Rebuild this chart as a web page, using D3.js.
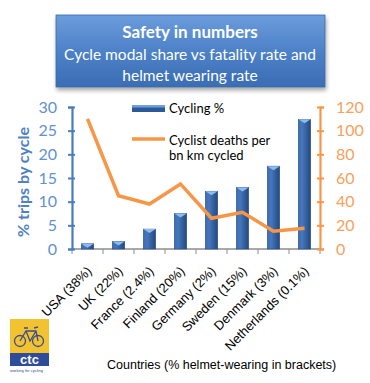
<!DOCTYPE html>
<html>
<head>
<meta charset="utf-8">
<script src="https://cdn.jsdelivr.net/npm/d3@7"></script>
<style>
  body { margin: 0; background: #fff; }
  svg { display: block; }
</style>
</head>
<body>
<script>
(function() {

  // chart data
  let countries = ["USA (38%)", "UK (22%)", "France (2.4%)", "Finland (20%)",
                   "Germany (2%)", "Sweden (15%)", "Denmark (3%)", "Netherlands (0.1%)"];
  let cyclingShare = [1.1, 1.6, 4.2, 7.5, 12.2, 13.0, 17.5, 27.4];
  let deathRate = [110, 45, 38, 55, 26, 31, 15, 17.5];
  let leftTicks = [0, 5, 10, 15, 20, 25, 30];
  let rightTicks = [0, 20, 40, 60, 80, 100, 120];

  let svg = d3.select("body").append("svg")
    .attr("width", 370)
    .attr("height", 383);

  let defs = svg.append("defs");

  // title box gradient
  let tg = defs.append("linearGradient").attr("id", "titleGrad")
    .attr("x1", 0).attr("y1", 0).attr("x2", 0).attr("y2", 1);
  tg.append("stop").attr("offset", "0%").attr("stop-color", "#6c9cdb");
  tg.append("stop").attr("offset", "50%").attr("stop-color", "#4d82c8");
  tg.append("stop").attr("offset", "100%").attr("stop-color", "#3a6db3");

  // bar gradient (cylinder look)
  let bg = defs.append("linearGradient").attr("id", "barGrad")
    .attr("x1", 0).attr("y1", 0).attr("x2", 1).attr("y2", 0);
  bg.append("stop").attr("offset", "0%").attr("stop-color", "#3a6cb2");
  bg.append("stop").attr("offset", "30%").attr("stop-color", "#4677bd");
  bg.append("stop").attr("offset", "100%").attr("stop-color", "#23487d");

  let shadow = defs.append("filter").attr("id", "shadow")
    .attr("x", "-10%").attr("y", "-10%").attr("width", "120%").attr("height", "130%");
  shadow.append("feDropShadow").attr("dx", 1).attr("dy", 3)
    .attr("stdDeviation", 2).attr("flood-color", "#000").attr("flood-opacity", 0.35);

  // title box
  svg.append("rect")
    .attr("x", 56).attr("y", 15)
    .attr("width", 269).attr("height", 72)
    .attr("fill", "url(#titleGrad)")
    .attr("stroke", "#3a6aa8").attr("stroke-width", 0.8)
    .attr("filter", "url(#shadow)");

  let titleFont = "Lato, 'Open Sans', sans-serif";
  svg.append("text")
    .attr("x", 190).attr("y", 38)
    .attr("text-anchor", "middle")
    .style("font-family", titleFont).style("font-size", "17px").style("font-weight", "bold")
    .style("fill", "white")
    .text("Safety in numbers");
  svg.append("text")
    .attr("x", 190).attr("y", 60)
    .attr("text-anchor", "middle")
    .style("font-family", titleFont).style("font-size", "15.5px")
    .style("fill", "white")
    .text("Cycle modal share vs fatality rate and");
  svg.append("text")
    .attr("x", 190).attr("y", 81)
    .attr("text-anchor", "middle")
    .style("font-family", titleFont).style("font-size", "15.5px")
    .style("fill", "white")
    .text("helmet wearing rate");

  // scales
  let left = 72, right = 320, top = 107, bottom = 249;

  let xScale = d3.scaleBand()
    .domain(countries)
    .range([left, right])
    .paddingInner(0.6)
    .paddingOuter(0.3);

  let yLeft = d3.scaleLinear().domain([0, 30]).range([bottom, top]);
  let yRight = d3.scaleLinear().domain([0, 120]).range([bottom, top]);

  // x axis baseline with ticks between categories
  let step = xScale.step();
  svg.append("line")
    .attr("x1", left).attr("x2", right)
    .attr("y1", bottom).attr("y2", bottom)
    .attr("stroke", "#8c8c8c").attr("stroke-width", 1.5);
  svg.selectAll(".xtick")
    .data(d3.range(countries.length + 1))
    .enter().append("line")
    .attr("x1", (i) => left + i * step).attr("x2", (i) => left + i * step)
    .attr("y1", bottom).attr("y2", bottom + 5)
    .attr("stroke", "#8c8c8c").attr("stroke-width", 1);

  // bars
  let bars = svg.selectAll(".bar")
    .data(countries)
    .enter().append("g");
  bars.append("rect")
    .attr("x", (d) => xScale(d))
    .attr("y", (d, i) => yLeft(cyclingShare[i]))
    .attr("width", xScale.bandwidth())
    .attr("height", (d, i) => bottom - yLeft(cyclingShare[i]))
    .attr("fill", "url(#barGrad)")
    .attr("stroke", "#2a5189").attr("stroke-width", 0.6);
  // light bevel on top of each bar
  bars.append("path")
    .attr("d", function(d, i) {
      let x0 = xScale(d), w = xScale.bandwidth(), y0 = yLeft(cyclingShare[i]);
      return "M" + x0 + "," + y0 + "L" + (x0 + w) + "," + y0 +
        "L" + (x0 + w / 2) + "," + (y0 + 4) + "Z";
    })
    .attr("fill", "#8fbaf0");

  // left axis
  let leftAxis = svg.append("g")
    .attr("transform", "translate(" + left + ",0)")
    .call(d3.axisLeft(yLeft).tickValues(leftTicks).tickSize(4).tickPadding(11));
  leftAxis.select(".domain").attr("stroke", "#4a7cc0").attr("stroke-width", 2.2);
  leftAxis.selectAll(".tick line").attr("x1", 3).attr("stroke", "#4a7cc0").attr("stroke-width", 2);
  leftAxis.selectAll(".tick text")
    .style("font-family", titleFont).style("font-size", "16px").style("fill", "#5f91d4");

  // right axis
  let rightAxis = svg.append("g")
    .attr("transform", "translate(" + right + ",0)")
    .call(d3.axisRight(yRight).tickValues(rightTicks).tickSize(4).tickPadding(12));
  rightAxis.select(".domain").attr("stroke", "#f79646").attr("stroke-width", 2.2);
  rightAxis.selectAll(".tick line").attr("x1", -3).attr("stroke", "#f79646").attr("stroke-width", 2);
  rightAxis.selectAll(".tick text")
    .style("font-family", titleFont).style("font-size", "16px").style("fill", "#f7a15c");

  // fatality line
  let line = d3.line()
    .x((d, i) => xScale(countries[i]) + xScale.bandwidth() / 2)
    .y((d) => yRight(d));
  svg.append("path")
    .datum(deathRate)
    .attr("d", line)
    .attr("fill", "none")
    .attr("stroke", "#f79646")
    .attr("stroke-width", 3.5);

  // axis title
  svg.append("text")
    .attr("transform", "translate(29,182)rotate(-90)")
    .attr("text-anchor", "middle")
    .style("font-family", titleFont).style("font-size", "16px").style("font-weight", "bold")
    .style("fill", "#4f81c4")
    .text("% trips by cycle");

  // category labels
  svg.selectAll(".xlabel")
    .data(countries)
    .enter().append("text")
    .attr("transform", (d) => "translate(" + (xScale(d) + xScale.bandwidth() / 2 + 5) + ",272)rotate(-45)")
    .attr("text-anchor", "end")
    .style("font-family", "'Liberation Sans', Arial, sans-serif").style("font-size", "13px")
    .style("fill", "#000")
    .text((d) => d);

  svg.append("text")
    .attr("x", 107).attr("y", 369)
    .style("font-family", "'Liberation Sans', Arial, sans-serif").style("font-size", "12.5px")
    .style("fill", "#000")
    .text("Countries (% helmet-wearing in brackets)");

  // legend
  svg.append("rect")
    .attr("x", 132).attr("y", 105)
    .attr("width", 33).attr("height", 7)
    .attr("fill", "#2c5a98");
  svg.append("rect")
    .attr("x", 132).attr("y", 105)
    .attr("width", 33).attr("height", 2.5)
    .attr("fill", "#6f9fdc");
  svg.append("text")
    .attr("x", 169).attr("y", 113)
    .style("font-family", titleFont).style("font-size", "13px")
    .text("Cycling %");

  svg.append("line")
    .attr("x1", 132).attr("x2", 165)
    .attr("y1", 139).attr("y2", 139)
    .attr("stroke", "#f79646").attr("stroke-width", 3.5);
  svg.append("text")
    .attr("x", 169).attr("y", 145)
    .style("font-family", titleFont).style("font-size", "13px")
    .text("Cyclist deaths per");
  svg.append("text")
    .attr("x", 169).attr("y", 160)
    .style("font-family", titleFont).style("font-size", "13px")
    .text("bn km cycled");

  // CTC logo
  let logo = svg.append("g");
  logo.append("rect")
    .attr("x", 10).attr("y", 319).attr("width", 39).attr("height", 34)
    .attr("fill", "#f2c230");
  logo.append("circle").attr("cx", 20).attr("cy", 341).attr("r", 5.5)
    .attr("fill", "none").attr("stroke", "#3b4f8f").attr("stroke-width", 1.3);
  logo.append("circle").attr("cx", 38).attr("cy", 341).attr("r", 5.5)
    .attr("fill", "none").attr("stroke", "#3b4f8f").attr("stroke-width", 1.3);
  logo.append("path")
    .attr("d", "M20,341 L26,331 L36,331 L38,341 M26,331 L30,341 L36,331 M24,328 L28,328 M34,328 L38,327")
    .attr("fill", "none").attr("stroke", "#3b4f8f").attr("stroke-width", 1.3);
  logo.append("rect")
    .attr("x", 10).attr("y", 353).attr("width", 39).attr("height", 13)
    .attr("fill", "#2f4c9b");
  logo.append("text")
    .attr("x", 29.5).attr("y", 364)
    .attr("text-anchor", "middle")
    .style("font-family", "'Liberation Sans', Arial, sans-serif").style("font-size", "13px")
    .style("font-weight", "bold").style("fill", "white")
    .text("ctc");
  logo.append("text")
    .attr("x", 10).attr("y", 371.5)
    .style("font-family", "'Liberation Sans', Arial, sans-serif").style("font-size", "4px")
    .style("fill", "#2f4c9b")
    .text("working for cycling");

})();
</script>
</body>
</html>
